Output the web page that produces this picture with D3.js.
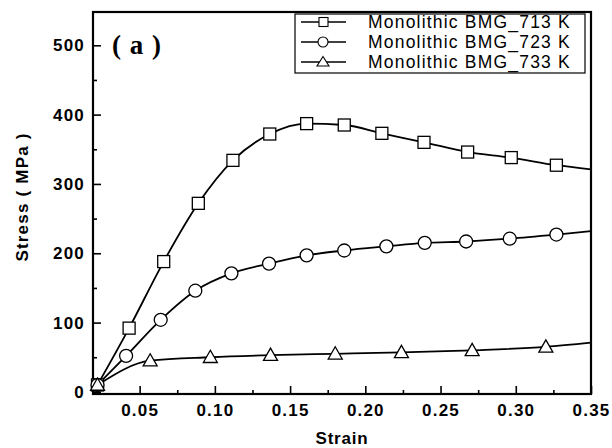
<!DOCTYPE html>
<html><head><meta charset="utf-8">
<script src="https://cdn.jsdelivr.net/npm/d3@7"></script>
<style>
html,body{margin:0;padding:0;background:#fff;}
svg{display:block;}
</style></head>
<body>
<svg id="chart" width="612" height="448"></svg>
<script>
const seriesNames = ["Monolithic BMG_713 K", "Monolithic BMG_723 K", "Monolithic BMG_733 K"];
const markerTypes = ["square", "circle", "triangle"];
const strain713 = [0.022, 0.043, 0.066, 0.089, 0.112, 0.1365, 0.161, 0.186, 0.211, 0.239, 0.268, 0.297, 0.327, 0.35];
const stress713 = [10, 92, 188, 272, 334, 372, 387, 385, 373, 360, 346, 338, 327, 321];
const strain723 = [0.022, 0.041, 0.064, 0.087, 0.111, 0.136, 0.161, 0.186, 0.214, 0.2395, 0.267, 0.296, 0.327, 0.35];
const stress723 = [10, 52, 104, 146, 171, 185, 197, 204, 210, 215, 217, 221, 227, 232];
const strain733 = [0.022, 0.057, 0.097, 0.137, 0.18, 0.224, 0.271, 0.32, 0.35];
const stress733 = [10, 45, 50, 53, 55, 57, 60, 65, 71];
const xTicks = [0.05, 0.10, 0.15, 0.20, 0.25, 0.30, 0.35];
const xMinor = [0.075, 0.125, 0.175, 0.225, 0.275, 0.325];
const yTicks = [0, 100, 200, 300, 400, 500];
const yMinor = [50, 150, 250, 350, 450];
const xLabel = "Strain";
const yLabel = "Stress ( MPa )";
const panelLabel = "( a )";

const strains = [strain713, strain723, strain733];
const stresses = [stress713, stress723, stress733];

const svg = d3.select("#chart");
const L = 93, R = 591, T = 12, B = 394;
const x = d3.scaleLinear().domain([0.019, 0.35]).range([L, R]);
const y = d3.scaleLinear().domain([-3, 548]).range([B, T]);

const fontSans = "'Liberation Sans', Arial, sans-serif";

function styleTickText(sel) {
  sel.attr("font-family", fontSans).attr("font-weight", "bold").attr("font-size", 17)
    .attr("letter-spacing", 1.2).attr("fill", "#000");
}

// axes
const gx = svg.append("g").attr("transform", `translate(0,${B})`)
  .call(d3.axisBottom(x).tickValues(xTicks).tickSize(-8).tickPadding(10).tickFormat(d3.format(".2f")));
gx.select(".domain").remove();
gx.selectAll("line").attr("stroke", "#000").attr("stroke-width", 1.6);
styleTickText(gx.selectAll("text"));
const gxm = svg.append("g").attr("transform", `translate(0,${B})`)
  .call(d3.axisBottom(x).tickValues(xMinor).tickSize(-4).tickFormat(""));
gxm.select(".domain").remove();
gxm.selectAll("line").attr("stroke", "#000").attr("stroke-width", 1.6);

const gy = svg.append("g").attr("transform", `translate(${L},0)`)
  .call(d3.axisLeft(y).tickValues(yTicks).tickSize(-8).tickPadding(8));
gy.select(".domain").remove();
gy.selectAll("line").attr("stroke", "#000").attr("stroke-width", 1.6);
styleTickText(gy.selectAll("text"));
const gym = svg.append("g").attr("transform", `translate(${L},0)`)
  .call(d3.axisLeft(y).tickValues(yMinor).tickSize(-4).tickFormat(""));
gym.select(".domain").remove();
gym.selectAll("line").attr("stroke", "#000").attr("stroke-width", 1.6);

// frame
svg.append("rect").attr("x", L).attr("y", T).attr("width", R - L).attr("height", B - T)
  .attr("fill", "none").attr("stroke", "#000").attr("stroke-width", 2.2);

// axis labels
svg.append("text").attr("x", 342).attr("y", 444).attr("text-anchor", "middle")
  .attr("font-family", fontSans).attr("font-weight", "bold").attr("font-size", 17).attr("letter-spacing", 0.8).text(xLabel);
svg.append("text").attr("transform", `translate(28,${(T + B) / 2 - 6}) rotate(-90)`).attr("text-anchor", "middle")
  .attr("font-family", fontSans).attr("font-weight", "bold").attr("font-size", 17).attr("letter-spacing", 1.2)
  .attr("xml:space", "preserve").text(yLabel);

// panel label
svg.append("text").attr("x", 112).attr("y", 54).attr("font-family", "'Liberation Serif', 'Times New Roman', serif")
  .attr("font-weight", "bold").attr("font-size", 27).attr("letter-spacing", 1).attr("xml:space", "preserve").text(panelLabel);

// clip
svg.append("clipPath").attr("id", "clip").append("rect").attr("x", L).attr("y", T).attr("width", R - L).attr("height", B - T);

const line = d3.line().x(d => x(d[0])).y(d => y(d[1])).curve(d3.curveMonotoneX);

function drawMarker(g, type, cx, cy) {
  if (type === "square") {
    g.append("rect").attr("x", cx - 6).attr("y", cy - 6).attr("width", 12).attr("height", 12)
      .attr("fill", "#fff").attr("stroke", "#000").attr("stroke-width", 1.3);
  } else if (type === "circle") {
    g.append("circle").attr("cx", cx).attr("cy", cy).attr("r", 6.5)
      .attr("fill", "#fff").attr("stroke", "#000").attr("stroke-width", 1.3);
  } else {
    const s = 7;
    g.append("path").attr("d", `M${cx},${cy - s}L${cx + s},${cy + s * 0.75}L${cx - s},${cy + s * 0.75}Z`)
      .attr("fill", "#fff").attr("stroke", "#000").attr("stroke-width", 1.3);
  }
}

const plot = svg.append("g").attr("clip-path", "url(#clip)");
strains.forEach((xs, i) => {
  const pts = xs.map((v, j) => [v, stresses[i][j]]);
  plot.append("path").datum(pts).attr("d", line).attr("fill", "none").attr("stroke", "#000").attr("stroke-width", 1.8);
});
strains.forEach((xs, i) => {
  const g = svg.append("g");
  xs.slice(0, -1).forEach((v, j) => drawMarker(g, markerTypes[i], x(v), y(stresses[i][j])));
});

// legend
const lg = svg.append("g");
lg.append("rect").attr("x", 295).attr("y", 14).attr("width", 290).attr("height", 59)
  .attr("fill", "#fff").attr("stroke", "#000").attr("stroke-width", 1.2);
seriesNames.forEach((name, i) => {
  const cy = 22 + i * 20;
  lg.append("line").attr("x1", 301).attr("x2", 346).attr("y1", cy).attr("y2", cy).attr("stroke", "#000").attr("stroke-width", 1.5);
  const g = lg.append("g");
  if (markerTypes[i] === "square") {
    g.append("rect").attr("x", 319).attr("y", cy - 4.5).attr("width", 9).attr("height", 9).attr("fill", "#fff").attr("stroke", "#000").attr("stroke-width", 1.1);
  } else if (markerTypes[i] === "circle") {
    g.append("circle").attr("cx", 323).attr("cy", cy).attr("r", 5).attr("fill", "#fff").attr("stroke", "#000").attr("stroke-width", 1.1);
  } else {
    g.append("path").attr("d", `M323,${cy - 5.5}L329,${cy + 4}L317,${cy + 4}Z`).attr("fill", "#fff").attr("stroke", "#000").attr("stroke-width", 1.1);
  }
  lg.append("text").attr("x", 368).attr("y", cy + 6).attr("font-family", fontSans).attr("font-size", 17.5)
    .attr("letter-spacing", 1.2).text(name);
});
</script>
</body></html>
